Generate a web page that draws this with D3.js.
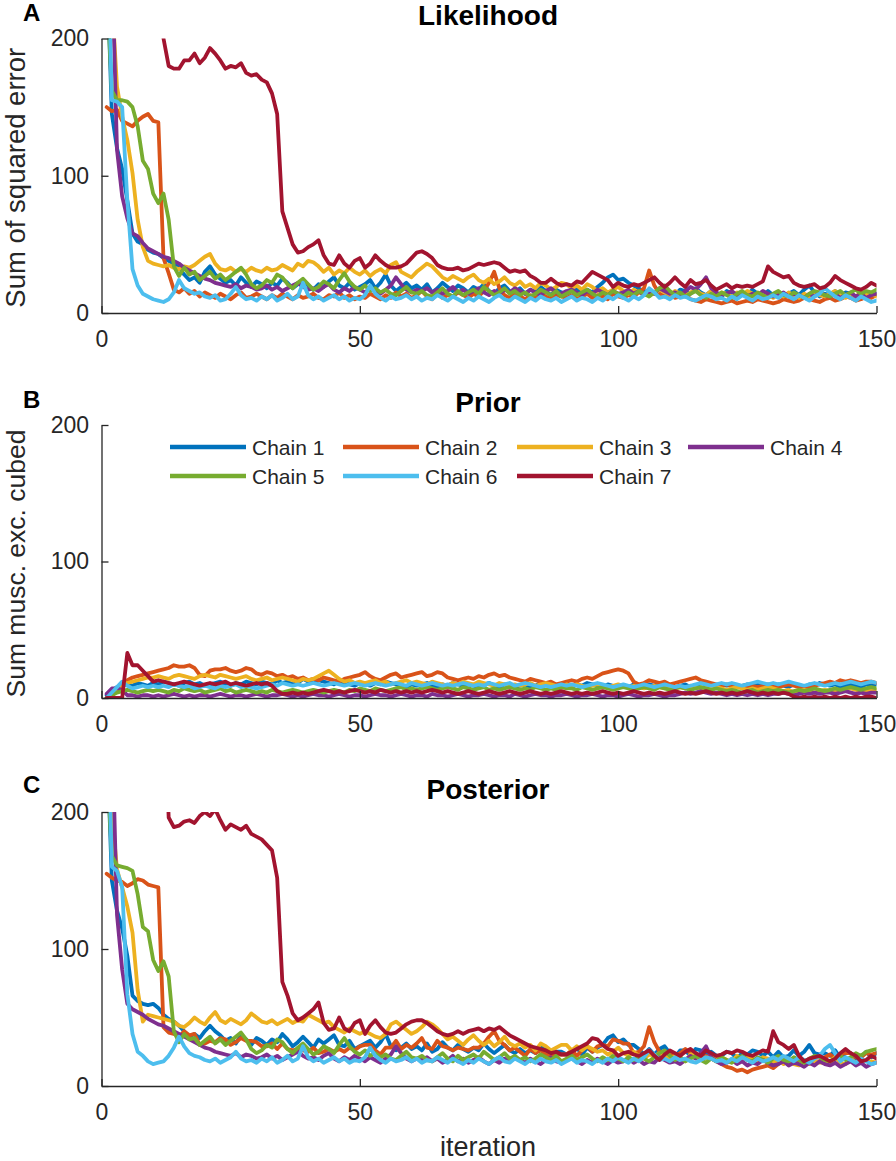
<!DOCTYPE html>
<html><head><meta charset="utf-8">
<script src="https://cdn.jsdelivr.net/npm/d3@7"></script>
<style>body{margin:0;background:#fff}</style>
</head><body>
<svg id="chart" width="896" height="1161"></svg>
<script>
const chainNames = ["Chain 1","Chain 2","Chain 3","Chain 4","Chain 5","Chain 6","Chain 7"];
const chainColors = ["#0072BD","#D95319","#EDB120","#7E2F8E","#77AC30","#4DBEEE","#A2142F"];
const xTicks = [0,50,100,150];
const yTicks = [0,100,200];
const panelLetters = ["A","B","C"];
const panelTitles = ["Likelihood","Prior","Posterior"];
const yLabels = ["Sum of squared error","Sum musc. exc. cubed",""];
const xLabel = "iteration";

// ---- Panel A: Likelihood ----
const likChain1 = [260,145,120,105,82,58,52,50,46,44,43,40,38,36,33,28,24,26,22,30,34,28,25,22,24,20,26,22,19,23,21,18,22,20,25,22,18,21,24,20,17,21,19,23,26,20,18,22,17,19,21,24,18,22,28,20,16,19,22,18,20,17,21,15,18,22,19,16,20,18,15,19,17,21,16,14,18,20,16,15,18,14,17,15,19,16,13,17,15,14,16,18,14,17,15,19,22,26,28,24,25,22,20,18,15,17,14,16,19,15,13,17,16,14,18,15,13,16,14,12,16,14,12,15,13,17,14,12,16,13,15,12,14,16,13,17,20,15,12,14,13,16,12,15,14,11,13,15,12,14];
const likChain2 = [150,147,148,140,138,136,140,143,145,140,139,40,29,17,15,18,14,16,12,15,13,11,14,12,10,13,15,11,12,14,12,10,13,11,14,12,10,13,11,12,14,11,10,13,12,15,11,13,10,12,11,14,12,10,13,11,15,12,14,11,13,16,12,10,14,11,13,12,15,13,11,14,12,16,22,30,18,13,11,14,12,10,13,11,14,12,10,13,12,11,13,10,12,14,11,13,12,10,14,12,11,13,12,15,18,31,20,14,12,13,11,12,14,10,9,8,10,9,8,7,8,9,7,8,9,8,10,9,8,7,8,10,9,8,9,11,10,9,8,10,11,9,10,12,11,9,10,12,11,13];
const likChain3 = [260,230,165,143,126,102,68,48,38,36,35,34,35,33,32,34,33,35,38,41,43,36,32,31,33,30,32,30,33,31,30,33,31,32,35,33,31,36,34,38,37,34,30,33,28,31,29,33,30,28,31,27,30,32,29,35,37,30,28,26,30,33,36,34,30,26,24,27,25,23,26,28,24,22,25,21,23,26,22,20,23,19,21,18,22,20,17,19,22,21,18,20,17,21,19,16,18,15,17,19,16,14,17,15,13,16,14,17,15,13,16,14,12,15,17,14,13,16,12,15,14,12,15,13,16,14,12,15,13,11,14,12,15,13,11,14,12,15,13,12,14,16,13,11,14,12,15,13,14,12];
const likChain4 = [300,260,119,85,69,58,56,51,47,45,43,41,40,38,36,33,31,29,27,25,24,22,21,20,19,21,18,20,19,17,18,20,17,19,16,18,20,22,19,17,18,16,19,21,17,15,18,16,19,17,15,18,16,14,17,20,26,21,17,15,17,16,18,15,17,14,16,19,15,17,14,16,18,15,13,16,14,17,15,18,16,14,17,15,13,16,18,15,14,16,17,15,13,16,14,17,15,13,16,14,15,17,14,16,13,15,14,18,16,14,15,13,16,19,17,21,26,18,15,13,14,16,13,15,12,14,13,16,14,12,13,15,12,14,13,11,14,12,15,13,12,14,11,13,15,12,14,11,13,14];
const likChain5 = [240,162,155,155,154,150,136,111,105,87,80,87,68,34,27,33,28,30,24,27,30,25,28,24,27,30,33,28,21,18,20,24,22,28,26,21,18,22,25,21,17,19,23,21,18,24,29,23,19,17,20,16,18,15,17,14,13,16,19,15,14,16,13,12,15,18,14,12,16,13,15,17,14,19,16,13,15,18,14,16,13,15,12,14,17,15,13,16,12,14,16,13,15,17,14,12,15,13,16,14,12,15,13,16,14,12,15,18,20,16,13,15,12,14,16,13,11,14,12,15,13,11,14,16,13,12,15,13,11,14,16,13,12,15,13,11,14,16,15,13,12,14,16,13,15,17,14,16,15,17];
const likChain6 = [300,155,154,150,82,32,20,14,12,10,9,8,10,15,24,18,16,14,15,12,11,13,9,10,14,19,13,10,11,9,12,10,13,9,11,14,10,12,22,13,10,12,9,11,13,10,12,9,11,10,13,20,14,11,9,12,10,11,13,10,12,9,11,10,13,11,9,12,10,8,11,9,12,10,8,11,13,10,9,12,10,8,11,9,12,10,9,11,8,10,12,9,11,10,8,11,9,12,10,13,11,9,12,10,13,18,15,11,12,10,13,11,12,10,9,11,13,12,10,11,9,12,10,13,11,9,12,10,11,13,11,14,12,10,13,11,9,12,14,18,15,12,10,13,11,9,12,10,8,9];
const likChain7 = [300,300,300,300,300,300,300,300,300,300,300,200,180,178,178,184,184,189,182,186,193,189,184,178,180,179,182,175,173,174,170,168,160,145,74,62,50,44,45,48,50,53,42,36,35,42,36,33,38,40,33,36,42,38,35,33,33,34,36,40,44,45,43,40,35,33,32,32,33,31,32,34,36,35,36,37,36,33,30,31,30,31,27,25,22,22,25,22,20,21,20,23,22,26,30,28,26,24,19,22,20,19,21,20,22,24,26,22,19,22,26,22,19,24,21,22,24,20,17,19,21,18,20,19,20,19,21,23,34,30,28,26,27,22,20,19,20,21,18,19,22,27,24,22,20,18,17,19,22,20];

// ---- Panel B: Prior ----
const priChain1 = [2,5,8,9,10,9,11,10,9,11,10,12,11,10,9,11,12,10,11,9,10,11,12,10,9,11,10,12,11,10,12,11,10,13,11,12,10,11,14,12,11,13,12,11,10,12,11,10,9,11,10,9,11,10,12,11,10,9,8,10,9,10,11,9,8,10,9,11,10,9,10,9,8,10,11,9,8,10,9,8,9,10,8,9,11,10,9,8,10,9,8,10,9,11,10,9,8,10,9,8,9,8,10,9,8,10,9,11,10,9,8,9,10,8,9,11,10,9,8,10,9,10,8,9,10,9,11,10,9,8,10,9,8,10,9,8,10,9,11,10,9,10,8,9,10,9,8,10,9,10];
const priChain2 = [0,3,6,10,13,15,16,17,18,19,20,21,22,24,23,23,24,22,17,16,20,21,21,22,20,19,20,22,21,18,17,19,18,16,17,15,16,14,15,13,14,13,15,14,13,12,14,15,16,17,19,16,14,13,15,17,18,15,16,17,18,19,16,17,19,18,15,14,13,14,15,14,16,15,17,18,16,17,15,14,13,12,14,13,12,11,12,10,11,12,13,12,14,15,14,16,18,19,20,21,20,18,12,10,11,13,12,11,12,10,11,12,13,14,15,13,12,11,10,9,10,9,8,9,8,9,8,9,10,9,8,9,10,9,8,7,8,9,10,11,12,11,13,12,13,12,11,12,12,11];
const priChain3 = [0,2,5,9,11,12,13,14,15,15,16,15,14,16,17,16,15,14,16,17,16,15,17,16,15,14,15,16,14,13,14,15,13,14,15,14,13,12,14,13,14,16,18,20,17,14,12,13,11,12,11,12,13,11,12,10,11,12,13,11,12,11,10,12,11,10,9,11,10,12,11,10,12,11,10,9,11,10,9,10,9,10,11,9,10,11,10,9,8,10,9,10,9,8,9,10,9,8,9,10,9,8,9,8,7,8,9,8,7,8,7,8,7,9,8,7,8,7,8,7,6,7,8,7,6,7,6,7,8,7,6,5,6,4,5,6,5,4,5,6,5,6,5,6,7,6,5,6,5,6];
const priChain4 = [3,7,7,6,2,2,1,2,2,1,2,1,2,3,2,1,2,1,2,2,1,2,3,2,1,2,2,1,2,3,2,1,2,2,3,2,1,2,1,2,3,2,2,1,2,3,2,1,2,2,1,2,3,2,2,1,2,3,2,1,2,2,1,3,2,2,1,2,3,2,1,2,2,3,2,1,2,2,1,3,2,1,2,3,2,2,1,2,2,3,2,1,2,2,3,2,1,2,2,1,2,3,2,1,2,2,3,2,1,2,2,3,4,3,4,5,4,3,4,3,2,3,2,3,2,3,2,3,2,3,3,4,3,2,3,4,3,4,3,4,4,3,4,5,4,3,4,3,4,4];
const priChain5 = [0,2,4,5,6,5,4,5,6,5,6,5,4,6,5,7,6,5,6,4,5,6,7,5,6,4,5,6,5,4,5,4,6,5,4,5,6,5,4,5,6,5,4,5,6,5,4,6,5,7,6,5,7,6,5,6,7,8,6,7,6,7,8,7,6,7,8,7,6,8,7,6,7,8,6,7,6,7,8,7,6,7,6,8,7,6,7,6,8,7,7,6,8,7,6,7,8,7,6,7,8,7,6,7,8,7,6,8,7,6,7,8,7,6,7,8,7,6,7,6,5,6,5,4,5,6,4,5,6,5,6,5,4,5,6,5,6,7,6,5,6,7,6,7,8,7,6,7,8,7];
const priChain6 = [0,4,8,12,9,7,8,9,8,9,8,9,8,10,9,8,9,7,8,9,8,7,9,8,9,10,8,9,8,7,8,9,10,9,11,10,9,10,9,10,11,10,9,10,11,10,9,10,11,10,9,10,11,10,9,10,11,10,9,11,10,9,10,11,10,9,10,9,10,11,10,9,10,9,11,10,9,10,11,9,10,11,10,9,8,9,8,9,10,9,10,9,8,9,10,11,10,9,8,9,10,9,8,9,10,9,8,9,10,9,8,9,8,9,10,11,10,9,10,11,10,11,10,9,10,11,12,11,10,11,10,11,12,11,10,9,10,11,10,9,10,11,10,11,12,11,10,11,12,11];
const priChain7 = [0,0,0,0,33,24,24,20,16,12,13,12,11,10,11,12,11,10,9,10,11,10,11,12,10,11,10,9,10,11,10,11,9,5,3,3,4,3,4,3,4,5,6,5,4,5,4,5,6,5,4,5,4,6,5,4,5,4,5,4,5,4,5,6,5,4,5,4,3,4,5,4,3,4,5,4,3,4,5,4,3,4,5,4,3,4,3,4,5,4,3,4,3,4,3,4,5,4,3,4,3,4,5,4,3,4,3,4,3,4,5,4,3,4,3,4,5,4,3,4,3,4,3,4,5,4,3,4,3,4,3,4,3,1,0,1,0,1,0,1,0,1,0,1,0,1,0,1,1,0];

// ---- Panel C: Posterior ----
const postChain1 = [260,150,128,115,95,66,62,60,59,60,57,52,49,47,44,40,36,38,35,40,44,40,37,33,35,31,37,34,30,35,33,30,34,32,38,34,29,32,36,32,28,34,31,34,37,30,29,33,27,29,31,33,28,32,38,29,26,28,31,27,29,26,31,25,27,32,28,26,30,27,25,28,26,31,27,24,27,30,26,24,27,24,26,24,30,26,22,25,25,23,24,28,23,28,25,28,30,35,37,32,34,30,30,27,23,27,23,27,29,24,21,26,26,22,27,26,23,25,22,22,25,24,20,24,23,26,25,22,25,21,25,21,22,26,22,25,30,24,23,24,22,26,20,24,24,20,21,25,21,24];
const postChain2 = [155,152,150,149,146,148,151,150,147,146,145,43,39,38,36,40,37,38,30,31,33,32,35,34,30,32,35,33,33,32,29,29,31,27,31,27,26,27,26,25,28,24,25,27,25,27,25,28,26,29,30,30,26,23,28,28,33,27,30,28,31,35,28,27,33,29,28,26,28,27,26,28,28,31,36,40,33,30,26,28,25,22,27,24,26,23,22,23,23,23,26,22,26,29,25,29,30,29,34,33,31,31,24,25,29,43,32,25,24,23,22,24,27,24,24,21,22,20,18,16,14,13,11,12,10,12,13,14,15,13,16,19,19,17,17,18,18,18,18,21,23,20,23,24,24,21,21,24,23,24];
const postChain3 = [260,200,158,145,131,112,70,47,52,51,50,49,48,47,44,43,46,50,47,45,50,54,48,46,49,47,45,48,53,50,47,46,48,45,47,49,46,48,47,52,50,48,46,47,43,41,39,42,40,38,40,38,36,35,38,45,47,44,41,38,40,43,47,45,42,38,34,36,33,30,34,37,33,30,33,29,32,36,31,29,31,28,30,26,31,29,26,28,30,30,26,29,26,29,27,25,26,23,25,28,24,22,25,22,20,23,22,24,21,20,22,21,18,23,24,20,20,22,19,21,19,18,22,19,21,20,17,21,20,17,19,16,20,16,15,19,16,18,17,17,18,21,17,16,20,17,19,18,18,17];
const postChain4 = [300,270,125,85,60,56,54,52,49,47,45,44,42,40,38,36,34,32,30,28,27,25,24,23,22,24,21,23,22,20,21,23,20,22,19,21,23,25,22,20,21,19,22,24,20,18,21,19,22,20,18,21,19,17,20,23,29,24,20,18,20,19,21,18,20,17,19,22,18,20,17,19,21,18,16,19,17,20,18,21,19,17,20,18,16,19,21,18,17,19,20,18,16,19,17,20,18,16,19,17,18,20,17,19,16,18,17,21,19,17,18,16,19,22,20,24,29,21,18,16,17,19,16,18,15,17,16,19,17,15,16,18,15,17,16,14,17,15,18,16,15,17,14,16,18,15,17,14,16,17];
const postChain5 = [240,168,161,160,159,157,140,116,113,92,84,91,80,40,32,38,34,35,30,33,36,31,34,30,33,36,39,34,27,24,26,30,28,34,32,27,24,28,31,27,23,25,29,27,24,30,35,29,25,23,26,22,24,21,23,20,19,22,25,21,20,22,19,18,21,24,20,18,22,19,21,23,20,25,22,19,21,24,20,22,19,21,18,20,23,21,19,22,18,20,22,19,21,23,20,18,21,19,22,20,18,21,19,22,20,18,21,24,26,22,19,21,18,20,22,19,17,20,18,21,19,17,20,22,19,18,21,19,17,20,22,19,18,21,19,17,20,22,21,19,18,20,22,19,21,24,22,25,26,27];
const postChain6 = [300,160,157,145,67,38,25,22,18,16,17,18,22,28,36,29,24,22,21,19,18,20,17,19,21,25,20,18,19,17,20,18,21,17,19,22,18,20,29,21,18,20,17,19,21,18,20,17,19,18,21,28,22,19,17,20,18,19,21,18,20,17,19,18,21,19,17,20,18,16,19,17,20,18,16,19,21,18,17,20,18,16,19,17,20,18,17,19,16,18,20,17,19,18,16,19,17,20,18,21,19,17,20,18,21,26,23,19,20,18,21,19,20,18,17,19,21,20,18,19,17,20,18,21,19,17,20,18,19,21,19,22,20,18,21,19,17,20,22,27,30,24,18,21,19,17,20,18,16,17];
const postChain7 = [300,300,300,300,300,300,300,300,300,300,300,300,196,189,190,193,194,192,197,200,197,202,194,187,191,189,187,190,184,182,180,176,172,152,76,66,53,48,50,53,56,61,46,41,42,50,42,40,46,48,38,44,48,43,39,38,39,42,45,47,48,48,46,43,40,38,37,38,40,38,40,41,42,40,42,41,43,40,37,35,33,31,29,28,27,26,24,25,23,23,25,27,29,31,35,34,30,27,26,22,24,25,23,22,24,26,22,19,23,26,24,22,25,27,24,22,26,24,22,23,25,24,26,25,23,22,24,26,25,40,32,30,27,30,22,18,20,21,22,20,18,20,24,27,24,22,18,19,22,20];

const panelSeries = [
  [likChain1,likChain2,likChain3,likChain4,likChain5,likChain6,likChain7],
  [priChain1,priChain2,priChain3,priChain4,priChain5,priChain6,priChain7],
  [postChain1,postChain2,postChain3,postChain4,postChain5,postChain6,postChain7]
];

// layout (pixel geometry, not data)
const plotLeft = 101.5, plotRight = 876.5;
const panelGeom = [
  {top: 38.5, bottom: 313, ylabX: 25, ylabSize: 27.5, letterY: 21, titleY: 25},
  {top: 425, bottom: 698, ylabX: 25, ylabSize: 26.5, letterY: 408, titleY: 412},
  {top: 812, bottom: 1086, ylabX: 25, ylabSize: 27, letterY: 793, titleY: 799}
];
const axisColor = "#262626";
const font = "'Liberation Sans', Arial, Helvetica, sans-serif";

const svg = d3.select("#chart");
svg.append("rect").attr("width",896).attr("height",1161).attr("fill","#fff");

const x = d3.scaleLinear().domain([0,150]).range([plotLeft, plotRight]);

panelGeom.forEach((g, p) => {
  const y = d3.scaleLinear().domain([0,200]).range([g.bottom, g.top]);
  const gp = svg.append("g");

  const clipId = "clip" + p;
  svg.append("clipPath").attr("id", clipId)
    .append("rect").attr("x", plotLeft).attr("y", g.top)
    .attr("width", plotRight - plotLeft).attr("height", g.bottom - g.top);

  const line = d3.line().x((d,i) => x(i+1)).y(d => y(d));
  const lines = gp.append("g").attr("clip-path", `url(#${clipId})`);
  panelSeries[p].forEach((s, c) => {
    lines.append("path").datum(s)
      .attr("d", line)
      .attr("fill","none")
      .attr("stroke", chainColors[c])
      .attr("stroke-width", 3.8)
      .attr("stroke-linejoin","round")
      .attr("stroke-linecap","round");
  });

  // axes
  const yAxis = d3.axisLeft(y).tickValues(yTicks).tickSize(-7).tickSizeOuter(0).tickPadding(12.5);
  const xAxis = d3.axisBottom(x).tickValues(xTicks).tickSize(-7).tickSizeOuter(0).tickPadding(18);
  const ya = gp.append("g").attr("transform", `translate(${plotLeft},0)`).call(yAxis);
  const xa = gp.append("g").attr("transform", `translate(0,${g.bottom})`).call(xAxis);
  [ya, xa].forEach(a => {
    a.select(".domain").attr("stroke", axisColor).attr("stroke-width", 1.3);
    a.selectAll(".tick line").attr("stroke", axisColor).attr("stroke-width", 1.3);
    a.selectAll(".tick text").attr("fill", axisColor)
      .style("font-family", font).style("font-size", "23px");
  });

  // panel letter
  gp.append("text").attr("x", 23).attr("y", g.letterY)
    .text(panelLetters[p])
    .style("font-family", font).style("font-size","24px").style("font-weight","bold")
    .attr("fill","#000");

  // title
  gp.append("text").attr("x", 488).attr("y", g.titleY)
    .attr("text-anchor","middle")
    .text(panelTitles[p])
    .style("font-family", font).style("font-size","28px").style("font-weight","bold")
    .attr("fill","#000");

  // y label
  if (yLabels[p]) {
    gp.append("text")
      .attr("transform", `translate(${g.ylabX},${(g.top+g.bottom)/2 + 2}) rotate(-90)`)
      .attr("text-anchor","middle")
      .text(yLabels[p])
      .style("font-family", font).style("font-size", g.ylabSize + "px")
      .attr("fill", axisColor);
  }

  // legend in panel B
  if (p === 1) {
    const legCols = [170, 343, 517, 688];
    const legRows = [447, 476];
    const leg = gp.append("g");
    chainNames.forEach((name, c) => {
      const col = c % 4, row = Math.floor(c / 4);
      const lx = legCols[col], ly = legRows[row];
      leg.append("line").attr("x1", lx).attr("x2", lx + 76)
        .attr("y1", ly).attr("y2", ly)
        .attr("stroke", chainColors[c]).attr("stroke-width", 4.5);
      leg.append("text").attr("x", lx + 82).attr("y", ly + 8)
        .text(name)
        .style("font-family", font).style("font-size","21px")
        .attr("fill", axisColor);
    });
  }
});

// x label
svg.append("text").attr("x", 488).attr("y", 1156)
  .attr("text-anchor","middle")
  .text(xLabel)
  .style("font-family", font).style("font-size","27px")
  .attr("fill", axisColor);
</script>
</body></html>
